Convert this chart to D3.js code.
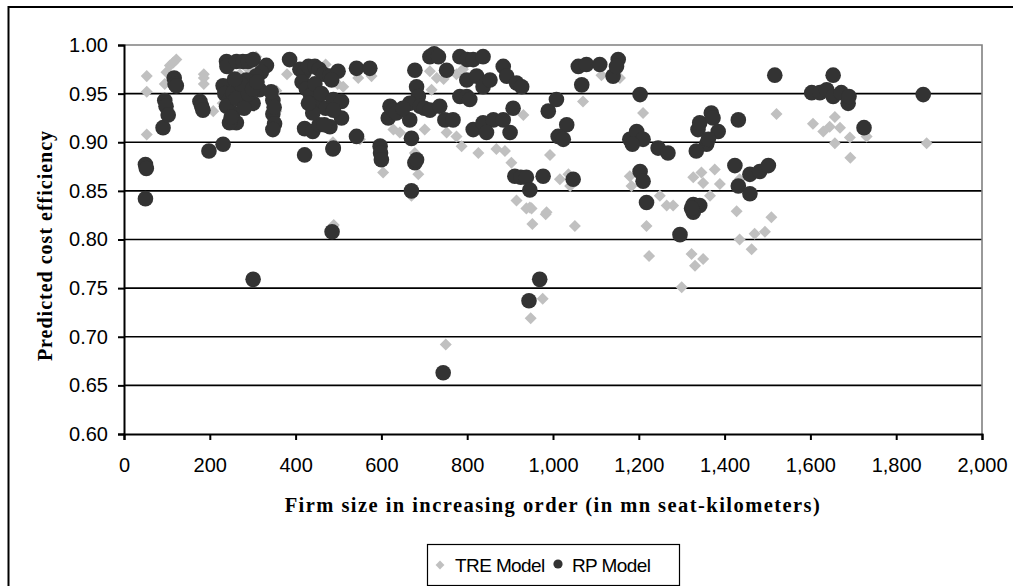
<!DOCTYPE html>
<html>
<head>
<meta charset="utf-8">
<script src="https://cdn.jsdelivr.net/npm/d3@7"></script>
<style>
  body { margin: 0; background: #fff; }
  svg { display: block; }
  .tick text { font-family: "Liberation Sans", Arial, sans-serif; font-size: 20px; fill: #000; }
</style>
</head>
<body>
<div id="chart"></div>
<script>
// series values: [firm size, predicted cost efficiency]
var rpModel = [
  [50,0.877],[52,0.873],[50,0.842],[91,0.915],[95,0.943],[98,0.937],[103,0.928],[117,0.966],[119,0.960],[122,0.958],
  [177,0.942],[181,0.937],[184,0.933],[198,0.891],[231,0.898],
  [239,0.983],[240,0.978],[262,0.983],[277,0.983],[289,0.983],[301,0.985],[332,0.979],[320,0.972],
  [231,0.958],[235,0.950],[246,0.944],[254,0.930],[262,0.920],[246,0.920],[239,0.937],[250,0.926],
  [277,0.944],[293,0.958],[308,0.968],[285,0.964],[270,0.951],[254,0.951],[301,0.940],[316,0.954],
  [262,0.945],[280,0.935],[290,0.950],[272,0.960],[258,0.965],[300,0.955],[310,0.962],[301,0.759],
  [347,0.943],[347,0.929],[351,0.919],[347,0.913],[343,0.952],[350,0.936],
  [386,0.985],[410,0.975],[420,0.972],[430,0.978],[445,0.978],[455,0.975],[465,0.970],[480,0.968],[499,0.973],
  [415,0.962],[425,0.955],[435,0.948],[445,0.960],[450,0.940],[460,0.950],[470,0.935],[484,0.964],[488,0.944],
  [507,0.942],[507,0.925],[488,0.933],[480,0.916],[488,0.894],[421,0.914],[440,0.911],[455,0.918],[467,0.918],
  [421,0.887],[487,0.893],[440,0.930],[430,0.940],[485,0.808],
  [542,0.976],[573,0.976],[542,0.906],[597,0.896],[598,0.889],[600,0.882],[616,0.925],[620,0.937],[628,0.933],
  [635,0.930],[666,0.923],[670,0.904],[678,0.879],[682,0.882],[670,0.850],[678,0.974],[682,0.957],[686,0.947],
  [666,0.940],[690,0.937],[650,0.935],[700,0.935],
  [713,0.988],[723,0.991],[733,0.988],[752,0.974],[783,0.988],[800,0.985],[814,0.985],[837,0.988],
  [713,0.933],[736,0.937],[748,0.923],[767,0.923],[783,0.947],[799,0.947],[806,0.944],[799,0.964],[822,0.968],
  [837,0.957],[853,0.964],[884,0.978],[892,0.968],[915,0.961],[927,0.957],[814,0.913],[837,0.920],[861,0.923],
  [884,0.923],[900,0.910],[845,0.910],[907,0.935],[744,0.663],
  [911,0.865],[925,0.864],[938,0.864],[946,0.851],[977,0.865],[1047,0.862],[989,0.932],[1008,0.944],
  [1032,0.918],[1012,0.906],[1024,0.903],[969,0.759],[944,0.737],
  [1059,0.978],[1078,0.980],[1109,0.980],[1067,0.959],[1140,0.968],[1152,0.985],[1148,0.978],
  [1203,0.949],[1179,0.903],[1195,0.911],[1210,0.903],[1185,0.898],[1245,0.894],[1268,0.889],[1203,0.870],
  [1210,0.860],[1218,0.838],
  [1338,0.913],[1342,0.920],[1369,0.930],[1373,0.925],[1385,0.911],[1358,0.898],[1334,0.891],[1362,0.903],
  [1432,0.923],[1424,0.876],[1459,0.867],[1482,0.870],[1502,0.876],[1432,0.855],[1459,0.847],
  [1327,0.836],[1342,0.835],[1327,0.828],[1323,0.832],[1296,0.805],
  [1517,0.969],[1603,0.951],[1622,0.951],[1638,0.954],[1653,0.947],[1653,0.969],[1672,0.951],[1688,0.940],
  [1690,0.947],[1725,0.915],[1863,0.949]
];

var treModel = [
  [53,0.968],[53,0.952],[53,0.908],[99,0.972],[107,0.979],[115,0.982],[122,0.985],[95,0.960],
  [186,0.970],[186,0.966],[186,0.960],[208,0.932],[254,0.979],[254,0.918],[265,0.985],[290,0.975],
  [308,0.988],[355,0.953],[355,0.932],[498,0.960],[487,0.900],[240,0.960],[270,0.970],[230,0.940],
  [440,0.975],[470,0.980],[380,0.970],[489,0.815],
  [511,0.957],[546,0.966],[577,0.968],[550,0.903],[604,0.869],[628,0.913],[643,0.910],[701,0.913],
  [678,0.889],[686,0.867],[670,0.845],[713,0.973],[729,0.966],[717,0.954],[745,0.965],[775,0.970],[790,0.975],
  [752,0.910],[775,0.906],[787,0.896],[826,0.889],[868,0.893],[888,0.891],[903,0.879],[931,0.928],
  [915,0.840],[946,0.833],[985,0.828],[938,0.832],[950,0.832],[983,0.826],[952,0.816],[1051,0.814],
  [993,0.887],[1016,0.862],[1036,0.867],[1040,0.855],[750,0.692],[976,0.739],[948,0.719],
  [1070,0.942],[1113,0.969],[1156,0.966],[1210,0.930],
  [1179,0.865],[1183,0.855],[1249,0.845],[1265,0.835],[1218,0.814],[1224,0.783],
  [1327,0.864],[1346,0.869],[1350,0.858],[1377,0.872],[1389,0.857],[1435,0.862],[1366,0.845],[1280,0.835],
  [1428,0.829],[1509,0.823],[1494,0.808],[1470,0.806],[1435,0.800],[1463,0.790],[1323,0.785],[1350,0.780],
  [1331,0.773],[1300,0.751],
  [1521,0.929],[1606,0.919],[1630,0.911],[1645,0.916],[1657,0.926],[1669,0.915],[1657,0.899],[1692,0.905],
  [1693,0.884],[1731,0.906],[1871,0.899]
];

var xTicks = [0, 200, 400, 600, 800, 1000, 1200, 1400, 1600, 1800, 2000];
var yTicks = [0.60, 0.65, 0.70, 0.75, 0.80, 0.85, 0.90, 0.95, 1.00];
var seriesNames = ["TRE Model", "RP Model"];

var width = 1013, height = 586;
var plot = { left: 124, right: 982, top: 45, bottom: 434 };

var svg = d3.select("#chart").append("svg")
    .attr("width", width)
    .attr("height", height);

// outer chart frame (only top and left edges fall inside the picture)
svg.append("rect")
    .attr("x", 8.5).attr("y", 7)
    .attr("width", 1200).attr("height", 800)
    .attr("fill", "none")
    .attr("stroke", "#000")
    .attr("stroke-width", 2);

var x = d3.scaleLinear().domain([0, 2000]).range([plot.left, plot.right]);
var y = d3.scaleLinear().domain([0.6, 1.0]).range([plot.bottom, plot.top]);

// horizontal gridlines
svg.append("g")
    .selectAll("line")
    .data(yTicks.filter(function(d) { return d > 0.6 && d < 1.0; }))
    .enter().append("line")
    .attr("x1", plot.left).attr("x2", plot.right)
    .attr("y1", function(d) { return y(d); })
    .attr("y2", function(d) { return y(d); })
    .attr("stroke", "#000")
    .attr("stroke-width", 1.6);

// plot area border top and right (grey)
svg.append("path")
    .attr("d", "M" + plot.left + "," + plot.top + "H" + plot.right + "V" + plot.bottom)
    .attr("fill", "none")
    .attr("stroke", "#808080")
    .attr("stroke-width", 1.6);

// series: diamonds first, circles on top
var diamond = d3.symbol().type(d3.symbolDiamond2).size(92);
svg.append("g")
    .selectAll("path")
    .data(treModel)
    .enter().append("path")
    .attr("d", diamond)
    .attr("transform", function(d) { return "translate(" + x(d[0]) + "," + y(d[1]) + ")"; })
    .attr("fill", "#c0c0c0");

svg.append("g")
    .selectAll("circle")
    .data(rpModel)
    .enter().append("circle")
    .attr("cx", function(d) { return x(d[0]); })
    .attr("cy", function(d) { return y(d[1]); })
    .attr("r", 7.8)
    .attr("fill", "#333333");

// axes
var xAxis = svg.append("g")
    .attr("transform", "translate(0," + plot.bottom + ")")
    .call(d3.axisBottom(x).tickValues(xTicks).tickSize(6).tickPadding(18).tickFormat(d3.format(",")));
var yAxis = svg.append("g")
    .attr("transform", "translate(" + plot.left + ",0)")
    .call(d3.axisLeft(y).tickValues(yTicks).tickSize(6).tickPadding(10).tickFormat(d3.format(".2f")));

[xAxis, yAxis].forEach(function(a) {
    a.select(".domain").attr("stroke", "#000").attr("stroke-width", 2);
    a.selectAll(".tick line").attr("stroke", "#000").attr("stroke-width", 2);
});

// axis titles
svg.append("text")
    .attr("x", (plot.left + plot.right) / 2)
    .attr("y", 512)
    .attr("text-anchor", "middle")
    .style("font-family", "'Liberation Serif', 'Times New Roman', serif")
    .style("font-weight", "bold")
    .style("font-size", "20.5px")
    .style("letter-spacing", "1.45px")
    .text("Firm size in increasing order (in mn seat-kilometers)");

svg.append("text")
    .attr("transform", "translate(52," + ((plot.top + plot.bottom) / 2 + 6) + ") rotate(-90)")
    .attr("text-anchor", "middle")
    .style("font-family", "'Liberation Serif', 'Times New Roman', serif")
    .style("font-weight", "bold")
    .style("font-size", "20px")
    .style("letter-spacing", "1px")
    .text("Predicted cost efficiency");

// legend
var legend = svg.append("g").attr("transform", "translate(427,544)");
legend.append("rect")
    .attr("x", 0.5).attr("y", 0.5)
    .attr("width", 252).attr("height", 41)
    .attr("fill", "#fff")
    .attr("stroke", "#000")
    .attr("stroke-width", 1.2);

legend.append("path")
    .attr("d", d3.symbol().type(d3.symbolDiamond2).size(50))
    .attr("transform", "translate(13,21)")
    .attr("fill", "#c0c0c0");
legend.append("circle")
    .attr("cx", 131).attr("cy", 20)
    .attr("r", 4.6)
    .attr("fill", "#333333");

legend.selectAll("text")
    .data(seriesNames)
    .enter().append("text")
    .attr("x", function(d, i) { return i === 0 ? 28 : 145; })
    .attr("y", 28)
    .style("font-family", "'Liberation Sans', Arial, sans-serif")
    .style("font-size", "19px")
    .style("letter-spacing", "-0.6px")
    .text(function(d) { return d; });
</script>
</body>
</html>
